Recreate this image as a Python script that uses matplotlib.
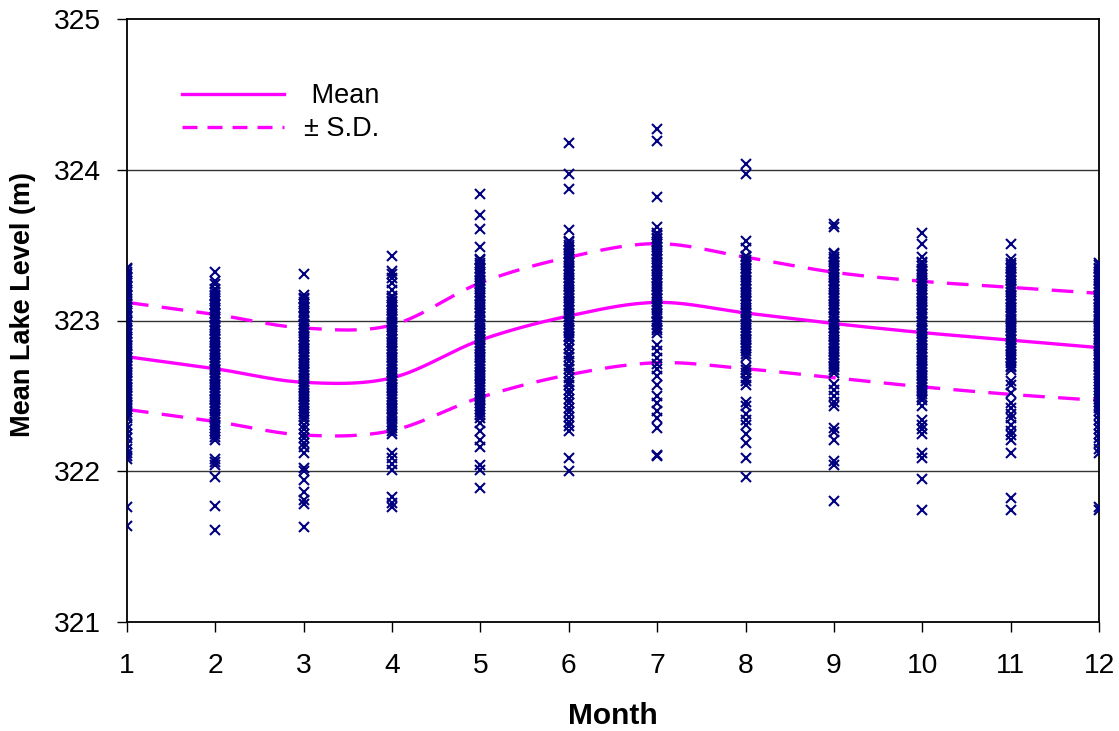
import numpy as np
import matplotlib
matplotlib.use("Agg")
import matplotlib.pyplot as plt
from matplotlib.lines import Line2D

plt.rcParams['font.family'] = ['Liberation Sans', 'DejaVu Sans']

months = [1, 2, 3, 4, 5, 6, 7, 8, 9, 10, 11, 12]

mean_level = [322.76, 322.68, 322.59, 322.62, 322.87, 323.03, 323.12, 323.05, 322.98, 322.92, 322.87, 322.82]
upper_sd = [323.12, 323.04, 322.95, 322.97, 323.25, 323.42, 323.51, 323.42, 323.32, 323.26, 323.22, 323.18]
lower_sd = [322.41, 322.33, 322.24, 322.27, 322.49, 322.64, 322.72, 322.68, 322.62, 322.56, 322.51, 322.47]

obs_m1 = [323.35, 323.34, 323.32, 323.31, 323.29, 323.28, 323.26, 323.25, 323.23, 323.22, 323.20, 323.19,
          323.17, 323.16, 323.14, 323.12, 323.11, 323.09, 323.08, 323.06, 323.05, 323.03, 323.02, 323.00,
          322.99, 322.97, 322.95, 322.94, 322.92, 322.91, 322.89, 322.88, 322.86, 322.84, 322.83, 322.81,
          322.79, 322.78, 322.76, 322.75, 322.73, 322.71, 322.70, 322.68, 322.66, 322.65, 322.63, 322.61,
          322.60, 322.58, 322.56, 322.55, 322.53, 322.51, 322.50, 322.48, 322.46, 322.44, 322.43, 322.41,
          322.39, 322.37, 322.35, 322.31, 322.28, 322.25, 322.22, 322.18, 322.15, 322.12, 322.10, 322.08,
          321.76, 321.64]
obs_m2 = [323.32, 323.26, 323.24, 323.21, 323.19, 323.17, 323.16, 323.14, 323.13, 323.11, 323.10, 323.08,
          323.07, 323.05, 323.04, 323.02, 323.01, 322.99, 322.97, 322.96, 322.94, 322.93, 322.91, 322.89,
          322.88, 322.86, 322.85, 322.83, 322.81, 322.80, 322.78, 322.77, 322.75, 322.73, 322.72, 322.70,
          322.68, 322.67, 322.65, 322.63, 322.62, 322.60, 322.58, 322.57, 322.55, 322.53, 322.52, 322.50,
          322.48, 322.47, 322.45, 322.43, 322.42, 322.40, 322.38, 322.36, 322.35, 322.33, 322.31, 322.29,
          322.27, 322.25, 322.23, 322.21, 322.08, 322.06, 322.04, 321.96, 321.77, 321.61]
obs_m3 = [323.31, 323.17, 323.15, 323.14, 323.12, 323.11, 323.09, 323.08, 323.06, 323.05, 323.03, 323.02,
          323.00, 322.98, 322.97, 322.95, 322.94, 322.92, 322.90, 322.89, 322.87, 322.86, 322.84, 322.82,
          322.81, 322.79, 322.77, 322.76, 322.74, 322.72, 322.71, 322.69, 322.67, 322.66, 322.64, 322.62,
          322.61, 322.59, 322.57, 322.56, 322.54, 322.52, 322.50, 322.49, 322.47, 322.45, 322.44, 322.42,
          322.40, 322.38, 322.36, 322.34, 322.31, 322.28, 322.25, 322.22, 322.19, 322.16, 322.12, 322.02,
          322.00, 321.94, 321.86, 321.81, 321.78, 321.63]
obs_m4 = [323.43, 323.33, 323.31, 323.28, 323.25, 323.20, 323.16, 323.15, 323.13, 323.12, 323.10, 323.09,
          323.07, 323.06, 323.04, 323.02, 323.01, 322.99, 322.98, 322.96, 322.94, 322.93, 322.91, 322.90,
          322.88, 322.86, 322.85, 322.83, 322.81, 322.80, 322.78, 322.76, 322.75, 322.73, 322.71, 322.70,
          322.68, 322.66, 322.65, 322.63, 322.61, 322.60, 322.58, 322.56, 322.55, 322.53, 322.51, 322.49,
          322.48, 322.46, 322.44, 322.42, 322.41, 322.39, 322.37, 322.35, 322.33, 322.31, 322.29, 322.27,
          322.25, 322.12, 322.09, 322.05, 322.01, 321.83, 321.79, 321.76]
obs_m5 = [323.84, 323.70, 323.61, 323.49, 323.41, 323.40, 323.38, 323.37, 323.35, 323.34, 323.32, 323.31,
          323.29, 323.27, 323.26, 323.24, 323.23, 323.21, 323.19, 323.18, 323.16, 323.15, 323.13, 323.11,
          323.10, 323.08, 323.06, 323.05, 323.03, 323.02, 323.00, 322.98, 322.97, 322.95, 322.93, 322.92,
          322.90, 322.88, 322.87, 322.85, 322.83, 322.82, 322.80, 322.78, 322.76, 322.75, 322.73, 322.71,
          322.70, 322.68, 322.66, 322.64, 322.63, 322.61, 322.59, 322.57, 322.56, 322.54, 322.52, 322.50,
          322.48, 322.47, 322.45, 322.43, 322.41, 322.39, 322.37, 322.35, 322.32, 322.27, 322.21, 322.16,
          322.04, 322.01, 321.89]
obs_m6 = [324.18, 323.97, 323.87, 323.60, 323.53, 323.52, 323.50, 323.49, 323.47, 323.45, 323.44, 323.42,
          323.41, 323.39, 323.38, 323.36, 323.34, 323.33, 323.31, 323.30, 323.28, 323.26, 323.25, 323.23,
          323.22, 323.20, 323.18, 323.17, 323.15, 323.13, 323.12, 323.10, 323.09, 323.07, 323.05, 323.04,
          323.02, 323.00, 322.99, 322.97, 322.95, 322.94, 322.92, 322.90, 322.89, 322.87, 322.84, 322.81,
          322.78, 322.76, 322.73, 322.70, 322.68, 322.65, 322.62, 322.59, 322.57, 322.54, 322.51, 322.48,
          322.45, 322.42, 322.39, 322.36, 322.33, 322.30, 322.27, 322.09, 322.00]
obs_m7 = [324.27, 324.19, 323.82, 323.62, 323.58, 323.57, 323.55, 323.54, 323.52, 323.51, 323.49, 323.47,
          323.46, 323.44, 323.43, 323.41, 323.39, 323.38, 323.36, 323.35, 323.33, 323.31, 323.30, 323.28,
          323.27, 323.25, 323.23, 323.22, 323.20, 323.18, 323.17, 323.15, 323.14, 323.12, 323.10, 323.09,
          323.07, 323.05, 323.04, 323.02, 323.00, 322.99, 322.97, 322.95, 322.94, 322.92, 322.84, 322.80,
          322.75, 322.71, 322.68, 322.63, 322.57, 322.50, 322.45, 322.40, 322.35, 322.29, 322.11, 322.10]
obs_m8 = [324.04, 323.97, 323.53, 323.48, 323.43, 323.42, 323.40, 323.39, 323.37, 323.35, 323.34, 323.32,
          323.31, 323.29, 323.27, 323.26, 323.24, 323.23, 323.21, 323.19, 323.18, 323.16, 323.14, 323.13,
          323.11, 323.10, 323.08, 323.06, 323.05, 323.03, 323.01, 323.00, 322.98, 322.97, 322.95, 322.93,
          322.92, 322.90, 322.88, 322.87, 322.85, 322.83, 322.82, 322.80, 322.78, 322.76, 322.69, 322.67,
          322.65, 322.62, 322.60, 322.57, 322.46, 322.43, 322.38, 322.34, 322.31, 322.25, 322.19, 322.09,
          321.96]
obs_m9 = [323.64, 323.62, 323.45, 323.44, 323.42, 323.41, 323.39, 323.37, 323.36, 323.34, 323.33, 323.31,
          323.29, 323.28, 323.26, 323.24, 323.23, 323.21, 323.20, 323.18, 323.16, 323.15, 323.13, 323.11,
          323.10, 323.08, 323.07, 323.05, 323.03, 323.02, 323.00, 322.98, 322.97, 322.95, 322.93, 322.92,
          322.90, 322.89, 322.87, 322.85, 322.84, 322.82, 322.80, 322.79, 322.77, 322.75, 322.74, 322.72,
          322.70, 322.69, 322.67, 322.65, 322.58, 322.54, 322.50, 322.46, 322.43, 322.29, 322.26, 322.21,
          322.07, 322.04, 321.80]
obs_m10 = [323.58, 323.51, 323.42, 323.39, 323.38, 323.36, 323.34, 323.33, 323.31, 323.30, 323.28, 323.26,
           323.25, 323.23, 323.21, 323.20, 323.18, 323.17, 323.15, 323.13, 323.12, 323.10, 323.08, 323.07,
           323.05, 323.04, 323.02, 323.00, 322.99, 322.97, 322.95, 322.94, 322.92, 322.91, 322.89, 322.87,
           322.86, 322.84, 322.82, 322.81, 322.79, 322.78, 322.76, 322.74, 322.73, 322.71, 322.69, 322.68,
           322.66, 322.64, 322.63, 322.61, 322.59, 322.58, 322.56, 322.54, 322.53, 322.51, 322.49, 322.47,
           322.43, 322.34, 322.31, 322.28, 322.25, 322.12, 322.09, 321.95, 321.74]
obs_m11 = [323.51, 323.41, 323.38, 323.37, 323.35, 323.34, 323.32, 323.30, 323.29, 323.27, 323.26, 323.24,
           323.22, 323.21, 323.19, 323.17, 323.16, 323.14, 323.13, 323.11, 323.09, 323.08, 323.06, 323.04,
           323.03, 323.01, 323.00, 322.98, 322.96, 322.95, 322.93, 322.91, 322.90, 322.88, 322.87, 322.85,
           322.83, 322.82, 322.80, 322.78, 322.77, 322.75, 322.74, 322.72, 322.70, 322.69, 322.67, 322.60,
           322.57, 322.52, 322.45, 322.42, 322.38, 322.35, 322.31, 322.27, 322.24, 322.21, 322.12, 321.82,
           321.74]
obs_m12 = [323.38, 323.37, 323.35, 323.34, 323.32, 323.30, 323.29, 323.27, 323.26, 323.24, 323.22, 323.21,
           323.19, 323.17, 323.16, 323.14, 323.13, 323.11, 323.09, 323.08, 323.06, 323.04, 323.03, 323.01,
           323.00, 322.98, 322.96, 322.95, 322.93, 322.91, 322.90, 322.88, 322.87, 322.85, 322.83, 322.82,
           322.80, 322.78, 322.77, 322.75, 322.74, 322.72, 322.70, 322.69, 322.67, 322.65, 322.64, 322.62,
           322.60, 322.58, 322.56, 322.54, 322.52, 322.50, 322.48, 322.46, 322.44, 322.42, 322.40, 322.37,
           322.34, 322.31, 322.28, 322.25, 322.22, 322.19, 322.15, 322.12, 321.76, 321.74]

observations = [obs_m1, obs_m2, obs_m3, obs_m4, obs_m5, obs_m6,
                obs_m7, obs_m8, obs_m9, obs_m10, obs_m11, obs_m12]

ytick_values = [321, 322, 323, 324, 325]


def smooth_curve(x, y, steps=30):
    """Catmull-Rom rendering of a smoothed line through the given points."""
    x = np.asarray(x, float)
    y = np.asarray(y, float)
    px = np.concatenate([[x[0]], x, [x[-1]]])
    py = np.concatenate([[y[0]], y, [y[-1]]])
    xs, ys = [], []
    t = np.linspace(0, 1, steps, endpoint=False)
    for i in range(1, len(px) - 2):
        for arr, out in ((px, xs), (py, ys)):
            a0, a1, a2, a3 = arr[i - 1], arr[i], arr[i + 1], arr[i + 2]
            out.extend(0.5 * ((2 * a1) + (-a0 + a2) * t + (2 * a0 - 5 * a1 + 4 * a2 - a3) * t ** 2
                              + (-a0 + 3 * a1 - 3 * a2 + a3) * t ** 3))
    xs.append(x[-1])
    ys.append(y[-1])
    return np.array(xs), np.array(ys)


fig = plt.figure(figsize=(11.19, 7.31), dpi=100)
ax = fig.add_axes([127 / 1119, 1 - 622 / 731, (1099 - 127) / 1119, (622 - 19) / 731])

fs_tick = 20.3
fs_leg = 19.5
magenta = '#FF00FF'
navy = '#000080'

for m, vals in zip(months, observations):
    ax.plot([m] * len(vals), vals, linestyle='none', marker='x', markersize=7,
            markeredgewidth=1.5, color=navy, zorder=3)

lw = 2.4
sx, sy = smooth_curve(months, mean_level)
ax.plot(sx, sy, color=magenta, lw=lw, zorder=2)
sx, sy = smooth_curve(months, upper_sd)
ax.plot(sx, sy, color=magenta, lw=lw, dashes=(6.5, 4), zorder=2)
sx, sy = smooth_curve(months, lower_sd)
ax.plot(sx, sy, color=magenta, lw=lw, dashes=(6.5, 4), zorder=2)

ax.set_xlim(1, 12)
ax.set_ylim(321, 325)
ax.set_xticks(months)
ax.set_xticklabels([str(m) for m in months])
ax.set_yticks(ytick_values)
ax.set_yticklabels([str(v) for v in ytick_values])

for v in ytick_values[1:-1]:
    ax.axhline(v, color='#333333', lw=1.0, zorder=1)

for s in ax.spines.values():
    s.set_color('black')
    s.set_linewidth(1.3)

ax.tick_params(axis='both', direction='out', length=7, width=1.0, labelsize=fs_tick, color='black')
ax.tick_params(axis='x', pad=15)
ax.tick_params(axis='y', pad=12)

ax.set_xlabel('Month', fontsize=21.5, fontweight='bold', labelpad=17)
ax.set_ylabel('Mean Lake Level (m)', fontsize=19.5, fontweight='bold')
ax.yaxis.set_label_coords((36 - 127) / 972, (622 - 305) / 603)

handles = [Line2D([], [], color=magenta, lw=lw),
           Line2D([], [], color=magenta, lw=lw, dashes=(4.5, 3))]
ax.legend(handles, [' Mean', '± S.D.'], loc='upper left',
          bbox_to_anchor=(55 / 972, 1 - 64 / 603), frameon=False,
          fontsize=fs_leg, handlelength=3.75, handletextpad=0.75, labelspacing=0.27,
          borderpad=0, borderaxespad=0)

fig.savefig('out.png', dpi=100)
